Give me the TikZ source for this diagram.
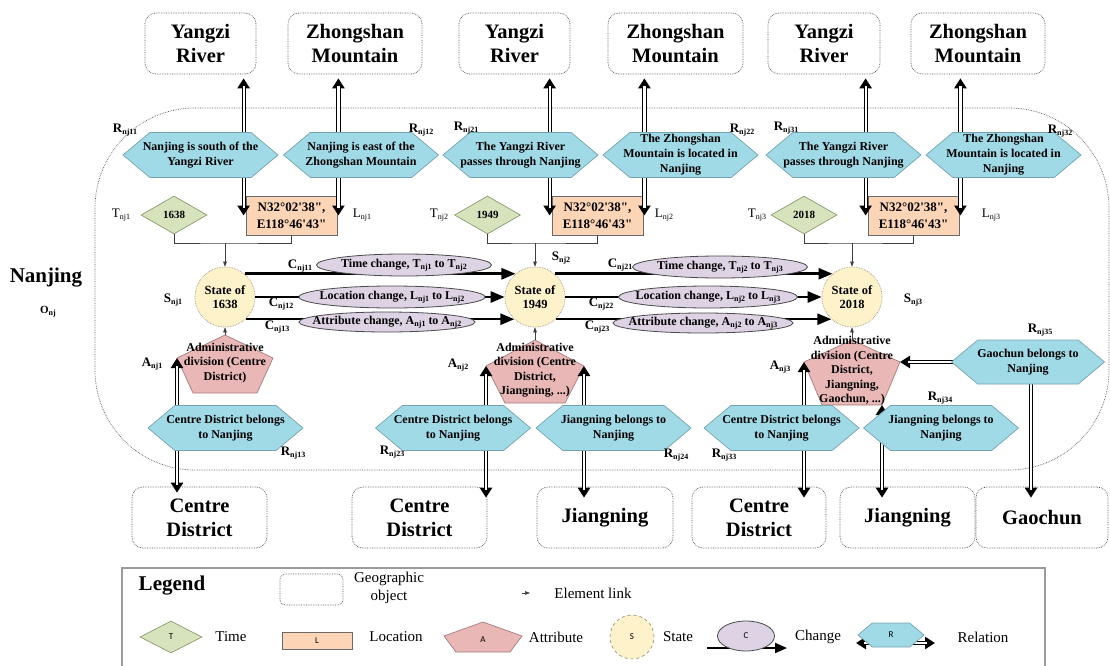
\documentclass[tikz,border=0pt]{standalone}
\usepackage{fontspec}
\setmainfont{Liberation Serif}
\newfontfamily\rawserif{Liberation Serif}[Ligatures=TeXOff]
\newfontfamily\smallsans{Carlito}
\usetikzlibrary{shapes.geometric,shapes.symbols,arrows.meta,calc}

\definecolor{relfill}{HTML}{A0DAE6}
\definecolor{reldraw}{HTML}{76A3B0}
\definecolor{timefill}{HTML}{D6E3BC}
\definecolor{timedraw}{HTML}{8A9B6E}
\definecolor{locfill}{HTML}{FBD5B5}
\definecolor{locdraw}{HTML}{6A6A6A}
\definecolor{attfill}{HTML}{E8B7B6}
\definecolor{attdraw}{HTML}{A67C7B}
\definecolor{statefill}{HTML}{FEF2CB}
\definecolor{statedraw}{HTML}{9A9480}
\definecolor{chgfill}{HTML}{DED3E4}
\definecolor{chgdraw}{HTML}{4A4A4A}
\definecolor{geodraw}{HTML}{505050}
\definecolor{framegray}{HTML}{9A9A9A}

% small lowered index used in all element names
\newcommand\sbs[1]{\raisebox{-1.8pt}{\fontsize{8}{9}\selectfont #1}}
\newcommand\tg[2]{#1\sbs{#2}}

\tikzset{
  region/.style={draw=black!65, densely dotted, line width=0.7pt, rounded corners=100pt},
  geo/.style={draw=geodraw, densely dotted, line width=0.7pt, rounded corners=11pt,
    minimum height=61pt, inner sep=0pt, align=center,
    font=\fontsize{20.5}{24}\selectfont\bfseries},
  relhex/.style={shape=signal, signal to=east and west, signal pointer angle=80,
    draw=reldraw, fill=relfill, line width=0.7pt, minimum width=155pt,
    minimum height=45pt, inner sep=0pt},
  reltext/.style={align=center, inner sep=0pt, font=\fontsize{12}{15}\selectfont\bfseries},
  timebox/.style={diamond, draw=timedraw, fill=timefill, line width=0.7pt,
    minimum width=66pt, minimum height=38pt, inner sep=0pt,
    font=\fontsize{11}{12}\selectfont\bfseries},
  locbox/.style={rectangle, draw=locdraw, fill=locfill, line width=0.8pt,
    minimum width=91pt, minimum height=39pt, inner sep=0pt, align=center,
    font=\rawserif\fontsize{13}{17}\selectfont\bfseries},
  statebox/.style={circle, draw=statedraw, densely dotted, line width=0.7pt,
    fill=statefill, minimum size=60pt, inner sep=0pt, align=center,
    font=\fontsize{12.5}{14}\selectfont\bfseries},
  chg/.style={ellipse, draw=chgdraw, fill=chgfill, line width=0.8pt, inner sep=0pt,
    minimum height=22pt, font=\fontsize{12}{13}\selectfont\bfseries},
  attr/.style={draw=attdraw, fill=attfill, line width=0.7pt},
  attrtext/.style={align=center, inner sep=0pt, font=\fontsize{12}{14.5}\selectfont\bfseries},
  tag/.style={inner sep=0pt, font=\fontsize{13}{14}\selectfont\bfseries},
  tagplain/.style={inner sep=0pt, font=\fontsize{13}{14}\selectfont},
  % double relation line: a black band with solid tips, hollowed by a white core
  reltwo/.style={draw=white, line width=2.2pt, shorten <=8pt, shorten >=8pt,
    preaction={draw=black, line width=4.2pt, shorten <=0pt, shorten >=0pt,
      {Triangle[length=10pt,width=12pt]}-{Triangle[length=10pt,width=12pt]}}},
  elink/.style={draw=black!75, line width=0.6pt},
  linktip/.style={-{Triangle[length=5pt,width=3.6pt]}},
  chgarrow/.style={draw=black, line width=2.6pt, -{Triangle[length=14pt,width=11pt]}},
  legtext/.style={inner sep=0pt, font=\fontsize{15}{18}\selectfont},
  legsmall/.style={font=\smallsans\fontsize{9}{10}\selectfont},
}

\begin{document}
\begin{tikzpicture}[x=1pt,y=-1pt]
\useasboundingbox (0,0) rectangle (1110,666);

% ---------- the object Nanjing ----------
\draw[region] (95,108) rectangle (1109,470);
\node[font=\fontsize{21}{24}\selectfont\bfseries] (nj) at (46,278) {Nanjing};
\node[inner sep=0pt, font=\fontsize{11}{12}\selectfont\bfseries] (onj) at (48,312) {\tg{O}{nj}};

% ---------- related geographic objects ----------
\node[geo, minimum width=111pt] (YR1) at (200.5,43.5) {Yangzi\\River};
\node[geo, minimum width=134pt] (ZM1) at (355,43.5) {Zhongshan\\Mountain};
\node[geo, minimum width=111pt] (YR2) at (514.5,43.5) {Yangzi\\River};
\node[geo, minimum width=135pt] (ZM2) at (675.5,43.5) {Zhongshan\\Mountain};
\node[geo, minimum width=112pt] (YR3) at (824,43.5) {Yangzi\\River};
\node[geo, minimum width=134pt] (ZM3) at (978,43.5) {Zhongshan\\Mountain};

\node[geo, minimum width=135pt] (CD1) at (199.5,517.5) {Centre\\District};
\node[geo, minimum width=135pt] (CD2) at (419.5,517.5) {Centre\\District};
\node[geo, minimum width=136pt] (JN1) at (605,517.5) {Jiangning};
\node[geo, minimum width=134pt] (CD3) at (759,517.5) {Centre\\District};
\node[geo, minimum width=135pt] (JN2) at (907.5,517.5) {Jiangning};
\node[geo, minimum width=132pt] (GC) at (1042,517.5) {Gaochun};

% ---------- times and locations ----------
\node[timebox] (T1) at (174,215) {1638};
\node[timebox] (T2) at (487.5,215) {1949};
\node[timebox] (T3) at (804,215) {2018};

\node[locbox] (L1) at (291.5,215.5) {N32°02'38",\\E118°46'43"};
\node[locbox] (L2) at (597.5,215.5) {N32°02'38",\\E118°46'43"};
\node[locbox] (L3) at (913.5,215.5) {N32°02'38",\\E118°46'43"};

% ---------- attributes ----------
\draw[attr] (225,335) coordinate (A1t) -- (273,358) coordinate (A1r)
  -- (257,393) coordinate (A1br) -- (193,393) coordinate (A1bl)
  -- (177,358) coordinate (A1l) -- cycle;
\draw[attr] (535,340) coordinate (A2t) -- (584,366) coordinate (A2r)
  -- (565,403) coordinate (A2br) -- (505,403) coordinate (A2bl)
  -- (486,366) coordinate (A2l) -- cycle;
\draw[attr] (852,340) coordinate (A3t) -- (900,362) coordinate (A3r)
  -- (882,405) coordinate (A3br) -- (822,405) coordinate (A3bl)
  -- (804,362) coordinate (A3l) -- cycle;
\node[attrtext] (A1) at (225,363) {Administrative\\division (Centre\\District)};
\node[attrtext] (A2) at (535,370) {Administrative\\division (Centre\\District,\\Jiangning, ...)};
\node[attrtext] (A3) at (852,371) {Administrative\\division (Centre\\District,\\Jiangning,\\Gaochun, ...)};

% ---------- states ----------
\node[statebox] (S1) at (225,297) {State of\\1638};
\node[statebox] (S2) at (535,297) {State of\\1949};
\node[statebox] (S3) at (852,297) {State of\\2018};

% ---------- element links ----------
\coordinate (J1) at (225,243);
\coordinate (J2) at (535,243);
\coordinate (J3) at (852,243);
\draw[elink] (T1.south) |- (J1) -| (L1.south);
\draw[elink] (T2.south) |- (J2) -| (L2.south);
\draw[elink] (T3.south) |- (J3) -| (L3.south);
\draw[elink,linktip] (J1) -- (S1.north);
\draw[elink,linktip] (J2) -- (S2.north);
\draw[elink,linktip] (J3) -- (S3.north);
\draw[elink,linktip] (A1t) -- (S1.south);
\draw[elink,linktip] (A2t) -- (S2.south);
\draw[elink,linktip] (A3t) -- (S3.south);

% ---------- changes ----------
\draw[chgarrow] (S1.50) -- (S2.130);
\draw[chgarrow] (S1.east) -- (S2.west);
\draw[chgarrow] (S1.-47) -- (S2.-133);
\draw[chgarrow] (S2.50) -- (S3.130);
\draw[chgarrow] (S2.east) -- (S3.west);
\draw[chgarrow] (S2.-47) -- (S3.-133);

\node[chg, minimum width=175pt] (C11) at (404,265) {\makebox[0pt]{Time change, \tg{T}{nj1} to \tg{T}{nj2}}};
\node[chg, minimum width=186pt] (C12) at (392,297) {\makebox[0pt]{Location change, \tg{L}{nj1} to \tg{L}{nj2}}};
\node[chg, minimum width=176pt, minimum height=20pt] (C13) at (387,322) {\makebox[0pt]{Attribute change, \tg{A}{nj1} to \tg{A}{nj2}}};
\node[chg, minimum width=175pt] (C21) at (720,267) {\makebox[0pt]{Time change, \tg{T}{nj2} to \tg{T}{nj3}}};
\node[chg, minimum width=179pt] (C22) at (708,297) {\makebox[0pt]{Location change, \tg{L}{nj2} to \tg{L}{nj3}}};
\node[chg, minimum width=180pt, minimum height=20pt] (C23) at (703,323) {\makebox[0pt]{Attribute change, \tg{A}{nj2} to \tg{A}{nj3}}};

% ---------- relations (connectors first, hexagons over them) ----------
\draw[reltwo] ($(L1.west)+(-2,0)$) -- ($(L1.west |- YR1.south)+(-2,4)$);
\draw[reltwo] ($(L1.east)+(1,0)$) -- ($(L1.east |- ZM1.south)+(1,4)$);
\draw[reltwo] ($(L2.west)+(-2,0)$) -- ($(L2.west |- YR2.south)+(-2,4)$);
\draw[reltwo] ($(L2.east)+(1,0)$) -- ($(L2.east |- ZM2.south)+(1,4)$);
\draw[reltwo] ($(L3.west)+(-2,0)$) -- ($(L3.west |- YR3.south)+(-2,4)$);
\draw[reltwo] ($(L3.east)+(1,0)$) -- ($(L3.east |- ZM3.south)+(1,4)$);

\draw[reltwo] (A1l) -- ($(A1l |- CD1.north)+(0,6)$);
\draw[reltwo] (A2l) -- ($(A2l |- CD2.north)+(0,11)$);
\draw[reltwo] (A2r) -- ($(A2r |- JN1.north)+(0,11)$);
\draw[reltwo] (A3l) -- ($(A3l |- CD3.north)+(0,11)$);
\draw[reltwo] (A3br) -- ($(A3br |- JN2.north)+(0,11)$);

\node[relhex] (R11) at (200.5,155) {};
\node[relhex] (R12) at (361,155) {};
\node[relhex] (R21) at (520.5,155) {};
\node[relhex] (R22) at (680.5,155) {};
\node[relhex] (R31) at (843.5,155) {};
\node[relhex] (R32) at (1003.5,155) {};
\node[relhex] (R13) at (225.5,428) {};
\node[relhex] (R23) at (453,428) {};
\node[relhex] (R24) at (613.5,428) {};
\node[relhex] (R33) at (781.5,428) {};
\node[relhex] (R34) at (941,428) {};
\draw[reltwo] (A3r) -| ($(1031,362 |- GC.north)+(0,11)$);
\node[relhex, minimum width=153pt, minimum height=44pt] (R35) at (1028,362) {};

\node[reltext] at (R11) {Nanjing is south of the\\Yangzi River};
\node[reltext] at (R12) {Nanjing is east of the\\Zhongshan Mountain};
\node[reltext] at (R21) {The Yangzi River\\passes through Nanjing};
\node[reltext] at (R22) {The Zhongshan\\Mountain is located in\\Nanjing};
\node[reltext] at (R31) {The Yangzi River\\passes through Nanjing};
\node[reltext] at (R32) {The Zhongshan\\Mountain is located in\\Nanjing};
\node[reltext] at (R13) {Centre District belongs\\to Nanjing};
\node[reltext] at (R23) {Centre District belongs\\to Nanjing};
\node[reltext] at (R24) {Jiangning belongs to\\Nanjing};
\node[reltext] at (R33) {Centre District belongs\\to Nanjing};
\node[reltext] at (R34) {Jiangning belongs to\\Nanjing};
\node[reltext] at (R35) {Gaochun belongs to\\Nanjing};

% ---------- element names ----------
\node[tag] (lR11) at (125,130) {\tg{R}{nj11}};
\node[tag] (lR12) at (421,130) {\tg{R}{nj12}};
\node[tag] (lR21) at (466,128) {\tg{R}{nj21}};
\node[tag] (lR22) at (742,130) {\tg{R}{nj22}};
\node[tag] (lR31) at (786,128) {\tg{R}{nj31}};
\node[tag] (lR32) at (1060,131) {\tg{R}{nj32}};
\node[tag] (lR13) at (293,453) {\tg{R}{nj13}};
\node[tag] (lR23) at (392,452) {\tg{R}{nj23}};
\node[tag] (lR24) at (676,455) {\tg{R}{nj24}};
\node[tag] (lR33) at (724,455) {\tg{R}{nj33}};
\node[tag] (lR34) at (940,398) {\tg{R}{nj34}};
\node[tag] (lR35) at (1040,330) {\tg{R}{nj35}};
\node[tagplain] (lT1) at (121,215) {\tg{T}{nj1}};
\node[tagplain] (lT2) at (439,215) {\tg{T}{nj2}};
\node[tagplain] (lT3) at (757,215) {\tg{T}{nj3}};
\node[tagplain] (lL1) at (362,215) {\tg{L}{nj1}};
\node[tagplain] (lL2) at (664,215) {\tg{L}{nj2}};
\node[tagplain] (lL3) at (991,215) {\tg{L}{nj3}};
\node[tag] (lS1) at (173,300) {\tg{S}{nj1}};
\node[tag] (lS2) at (561,258) {\tg{S}{nj2}};
\node[tag] (lS3) at (913,300) {\tg{S}{nj3}};
\node[tag] (lA1) at (152,364) {\tg{A}{nj1}};
\node[tag] (lA2) at (458,365) {\tg{A}{nj2}};
\node[tag] (lA3) at (780,367) {\tg{A}{nj3}};
\node[tag] (lC11) at (300,266) {\tg{C}{nj11}};
\node[tag] (lC12) at (281,304) {\tg{C}{nj12}};
\node[tag] (lC13) at (277,327) {\tg{C}{nj13}};
\node[tag] (lC21) at (620,265) {\tg{C}{nj21}};
\node[tag] (lC22) at (601,304) {\tg{C}{nj22}};
\node[tag] (lC23) at (597,327) {\tg{C}{nj23}};

% ---------- legend ----------
\draw[framegray, line width=1.3pt] (122,568) rectangle (1045,700);
\node[inner sep=0pt, font=\fontsize{21}{24}\selectfont\bfseries] (lgTitle) at (172,586) {Legend};
\node[geo, minimum width=63pt, minimum height=31pt, rounded corners=5pt] (lgGeo) at (311.5,589.5) {};
\node[legtext, align=center] (lgGeoT) at (389,588) {Geographic\\object};
\coordinate (lgLa) at (522,593);
\coordinate (lgLb) at (530,593);
\draw[elink,linktip] (lgLa) -- (lgLb);
\node[legtext] (lgLinkT) at (593,593) {Element link};

\node[timebox, minimum width=62pt, minimum height=32pt, legsmall] (lgT) at (171,637) {T};
\node[legtext] (lgTimeT) at (231,637) {Time};
\node[locbox, minimum width=70pt, minimum height=17pt, legsmall] (lgL) at (317,640.5) {L};
\node[legtext] (lgLocT) at (396,637) {Location};
\draw[attr] (483,622) coordinate (lgAt) -- (522,636) -- (510,652) -- (456,652) -- (444,636) -- cycle;
\node[legsmall, inner sep=0pt] (lgA) at (483,640) {A};
\node[legtext] (lgAttT) at (556,637) {Attribute};
\node[statebox, dashed, minimum size=44pt, legsmall] (lgS) at (632,637) {S};
\node[legtext] (lgStateT) at (678,637) {State};
\coordinate (lgCa) at (707,648);
\coordinate (lgCb) at (787,648);
\draw[draw=black, line width=2pt, -{Triangle[length=12pt,width=10pt]}] (lgCa) -- (lgCb);
\node[chg, minimum width=57pt, minimum height=30pt, legsmall] (lgC) at (746,636) {C};
\node[legtext] (lgChgT) at (818,637) {Change};
\coordinate (lgRa) at (856,643);
\coordinate (lgRb) at (935,643);
\draw[reltwo] (lgRa) -- (lgRb);
\node[relhex, minimum width=66pt, minimum height=24pt, legsmall] (lgR) at (891,635) {R};
\node[legtext] (lgRelT) at (983,637) {Relation};
\end{tikzpicture}
\end{document}
